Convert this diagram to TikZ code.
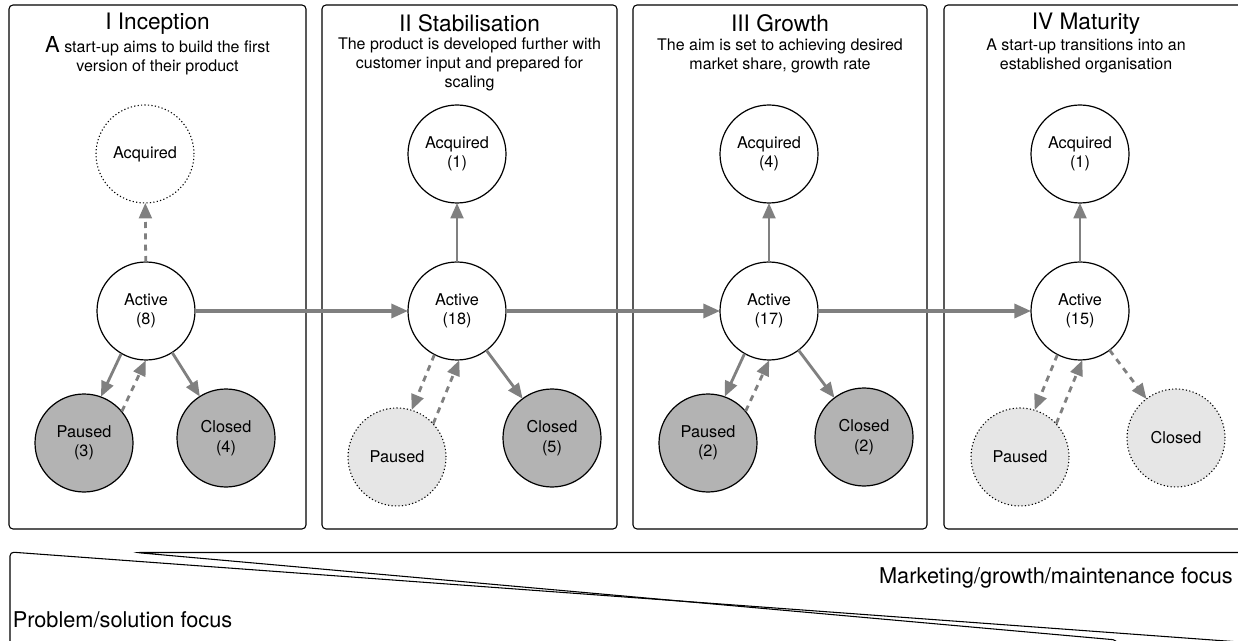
\documentclass[tikz,border=0pt]{standalone}
\usepackage{fontspec}
\setmainfont{TeX Gyre Heros}
\usetikzlibrary{arrows.meta,calc}
\definecolor{argray}{RGB}{128,128,128}
\definecolor{darkfill}{RGB}{179,179,179}
\definecolor{lightfill}{RGB}{230,230,230}
\tikzset{
  panel/.style={draw=black,line width=0.8pt,rounded corners=3pt},
  st/.style={circle,draw=black,line width=0.9pt,minimum size=73.5pt,inner sep=0pt,outer sep=0pt,align=center,font=\fontsize{12.2}{14.5}\selectfont},
  stw/.style={st,fill=white},
  stdark/.style={st,fill=darkfill},
  ghost/.style={dash pattern=on 0.9pt off 1.7pt,line width=0.8pt},
  stghost/.style={st,fill=lightfill,ghost},
  arr/.style={draw=argray,color=argray,line width=2.1pt,-{Triangle[length=11.5pt,width=9.5pt]}},
  darr/.style={arr,dash pattern=on 4.5pt off 4pt},
  harr/.style={arr,line width=2.5pt,-{Triangle[length=12.5pt,width=10.5pt]}},
  ttl/.style={font=\fontsize{17}{20}\selectfont,inner sep=0pt},
  sub/.style={font=\fontsize{12}{14.25}\selectfont,align=center,inner sep=0pt},
  focus/.style={font=\fontsize{16.3}{19}\selectfont,inner sep=0pt},
  bigline/.style={line width=0.8pt,rounded corners=3pt}
}
\begin{document}
\begin{tikzpicture}[x=0.75pt,y=-0.75pt]
\useasboundingbox (0,0) rectangle (1238,641);
\clip (0,0) rectangle (1238,641);
\fill[white] (0,0) rectangle (1238,641);

% panels
\draw[panel] (9,5) rectangle (306,529);
\draw[panel] (322,5) rectangle (617,529);
\draw[panel] (633,5) rectangle (927,529);
\draw[panel] (944,5) rectangle (1250,529);

% titles
\node[ttl] (t1) at (157.5,23.5) {I Inception};
\node[sub] (s1) at (157.5,56) {{\fontsize{16.5}{14.25}\selectfont A} start-up aims to build the first\\version of their product};
\node[ttl] (t2) at (469.5,23.5) {II Stabilisation};
\node[sub] (s2) at (469.5,64.5) {The product is developed further with\\customer input and prepared for\\scaling};
\node[ttl] (t3) at (780,23.5) {III Growth};
\node[sub] (s3) at (780,56) {The aim is set to achieving desired\\market share, growth rate};
\node[ttl] (t4) at (1086,23.5) {IV Maturity};
\node[sub] (s4) at (1086,56) {A start-up transitions into an\\established organisation};

% panel 1
\node[stw,ghost] (acq1) at (145,154) {Acquired};
\node[stw] (act1) at (146,311) {Active\\(8)};
\node[stdark] (pau1) at (84,443) {Paused\\(3)};
\node[stdark] (clo1) at (226,438) {Closed\\(4)};
% panel 2
\node[stw] (acq2) at (457,154) {Acquired\\(1)};
\node[stw] (act2) at (457,311) {Active\\(18)};
\node[stghost] (pau2) at (397,457) {Paused};
\node[stdark] (clo2) at (552,438) {Closed\\(5)};
% panel 3
\node[stw] (acq3) at (769,154) {Acquired\\(4)};
\node[stw] (act3) at (769,311) {Active\\(17)};
\node[stdark] (pau3) at (708,443) {Paused\\(2)};
\node[stdark] (clo3) at (864,437) {Closed\\(2)};
% panel 4
\node[stw] (acq4) at (1080,154) {Acquired\\(1)};
\node[stw] (act4) at (1080,311) {Active\\(15)};
\node[stghost] (pau4) at (1020,457) {Paused};
\node[stghost] (clo4) at (1176,438) {Closed};

% arrows panel 1
\draw[darr] (act1) -- (acq1);
\draw[arr] ($(act1)!37pt!-5:(pau1)$) -- ($(pau1)!37pt!5:(act1)$);
\draw[darr] ($(pau1)!37pt!-25:(act1)$) -- ($(act1)!37pt!25:(pau1)$);
\draw[arr] (act1) -- (clo1);
% panel 2
\draw[arr] (act2) -- (acq2);
\draw[darr] ($(act2)!37pt!-5:(pau2)$) -- ($(pau2)!37pt!5:(act2)$);
\draw[darr] ($(pau2)!37pt!-25:(act2)$) -- ($(act2)!37pt!25:(pau2)$);
\draw[arr] (act2) -- (clo2);
% panel 3
\draw[arr] (act3) -- (acq3);
\draw[arr] ($(act3)!37pt!-5:(pau3)$) -- ($(pau3)!37pt!5:(act3)$);
\draw[darr] ($(pau3)!37pt!-25:(act3)$) -- ($(act3)!37pt!25:(pau3)$);
\draw[arr] (act3) -- (clo3);
% panel 4
\draw[arr] (act4) -- (acq4);
\draw[darr] ($(act4)!37pt!-5:(pau4)$) -- ($(pau4)!37pt!5:(act4)$);
\draw[darr] ($(pau4)!37pt!-25:(act4)$) -- ($(act4)!37pt!25:(pau4)$);
\draw[darr] (act4) -- (clo4);

% horizontal arrows
\draw[harr] (act1) -- (act2);
\draw[harr] (act2) -- (act3);
\draw[harr] (act3) -- (act4);

% bottom wedges
\draw[bigline] (10,700) -- (10,552) -- (1300,646.4);
\draw[bigline] (1300,552.5) -- (136,552.5) -- (1117,640) -- (1117,700);
\node[focus,anchor=base west] (pf) at (12.5,627) {Problem/solution focus};
\node[focus,anchor=base east] (mf) at (1233,583) {Marketing/growth/maintenance focus};
\end{tikzpicture}
\end{document}
